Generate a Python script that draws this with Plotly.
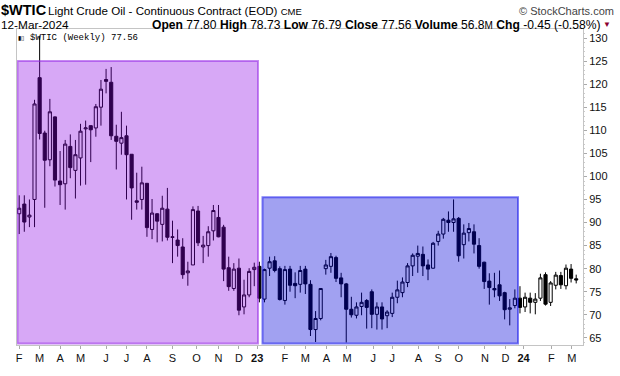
import plotly.graph_objects as go
import pandas as pd

# ---- data (weekly OHLC, $WTIC) ----
start_week = "2022-02-07"
opens = [91.9, 94.0, 91.2, 95.0, 121.4, 109.4, 103.6, 112.9, 99.0, 98.4,
         106.5, 101.3, 104.0, 110.3, 111.0, 110.5, 115.0, 121.0, 120.4, 108.7,
         107.2, 108.8, 104.8, 94.7, 95.0, 98.5, 88.5, 91.9, 89.6, 92.9,
         86.9, 86.2, 84.7, 79.1, 80.8, 92.5, 84.7, 85.0, 88.2, 91.1,
         89.0, 80.2, 75.7, 80.1, 71.7, 74.3, 79.8, 80.5, 73.4, 80.1,
         81.7, 80.0, 73.1, 79.9, 76.8, 76.6, 79.9, 76.6, 66.8, 69.2,
         80.0, 80.5, 82.4, 78.0, 76.7, 71.2, 69.9, 71.8, 73.1, 75.0,
         70.1, 71.7, 69.8, 70.3, 73.8, 74.8, 77.0, 80.6, 82.7, 83.1,
         80.8, 80.1, 85.9, 87.5, 90.5, 90.0, 90.9, 85.2, 87.8, 88.0,
         85.0, 81.4, 77.3, 75.7, 76.5, 74.8, 71.2, 72.0, 73.6, 71.7,
         73.6, 72.7, 73.6, 78.7, 72.7, 76.4, 78.5, 76.3, 79.9, 77.8]
highs = [95.9, 95.9, 95.0, 116.6, 130.5, 109.9, 116.8, 113.0, 105.5, 107.9,
         109.1, 107.9, 111.4, 112.1, 111.0, 115.7, 120.9, 123.3, 123.7, 111.2,
         114.0, 111.0, 104.8, 100.8, 102.1, 98.5, 95.1, 92.0, 95.8, 97.5,
         90.4, 88.5, 86.6, 81.5, 93.5, 93.6, 87.1, 89.2, 93.8, 93.8,
         89.5, 82.6, 81.2, 82.2, 77.6, 80.1, 81.3, 81.5, 80.0, 82.6,
         82.7, 80.5, 80.6, 80.6, 79.2, 80.6, 80.6, 77.5, 70.8, 75.7,
         81.9, 83.4, 82.8, 79.1, 76.9, 73.9, 72.7, 74.8, 73.4, 75.5,
         72.7, 72.7, 71.0, 74.8, 77.4, 78.1, 81.2, 83.3, 85.0, 84.8,
         82.0, 85.8, 88.2, 91.0, 92.4, 95.0, 91.2, 89.6, 89.9, 89.6,
         86.6, 81.5, 79.0, 79.1, 79.6, 75.0, 73.4, 75.5, 76.2, 74.8,
         74.8, 74.7, 78.9, 79.2, 77.3, 79.3, 79.3, 80.9, 81.0, 78.7]
lows = [87.5, 88.0, 89.0, 89.0, 108.0, 93.2, 102.2, 97.8, 93.8, 92.8,
        99.6, 95.2, 98.0, 98.2, 103.1, 108.6, 111.0, 118.0, 107.9, 101.5,
        104.7, 95.0, 90.6, 92.8, 92.8, 86.9, 86.4, 85.7, 85.9, 86.1,
        81.2, 82.6, 77.8, 76.3, 80.8, 84.9, 81.2, 82.6, 86.1, 86.8,
        77.3, 75.2, 75.2, 69.9, 70.1, 73.8, 76.2, 72.7, 72.7, 78.4,
        79.2, 73.1, 72.2, 75.0, 73.6, 74.8, 74.5, 65.4, 64.1, 68.8,
        78.7, 79.1, 77.1, 73.8, 64.0, 69.4, 69.2, 69.9, 67.0, 67.1,
        66.8, 66.8, 67.1, 69.5, 72.5, 73.8, 76.0, 78.4, 79.1, 78.4,
        77.5, 80.0, 85.0, 86.5, 88.0, 88.0, 81.5, 82.2, 85.9, 83.3,
        80.0, 75.6, 72.2, 73.8, 73.0, 69.0, 67.7, 71.4, 70.3, 70.6,
        70.3, 70.1, 73.0, 72.0, 71.9, 75.5, 75.6, 75.5, 77.0, 76.8]
closes = [93.1, 90.1, 91.6, 115.7, 109.3, 103.5, 114.0, 99.2, 98.2, 107.0,
          101.9, 104.7, 109.8, 110.5, 110.1, 115.1, 118.9, 120.6, 108.8, 107.6,
          108.4, 104.7, 97.5, 94.4, 98.6, 88.9, 92.05, 90.3, 93.1, 86.8,
          86.8, 85.0, 78.7, 79.5, 92.8, 85.6, 85.1, 88.0, 92.6, 86.9,
          79.9, 76.1, 79.9, 71.0, 74.3, 79.4, 80.3, 73.6, 79.8, 81.5,
          79.6, 73.3, 79.8, 76.4, 76.3, 79.6, 76.7, 66.8, 69.2, 75.7,
          80.8, 82.6, 77.9, 76.7, 71.2, 70.0, 71.7, 72.7, 71.6, 70.1,
          71.7, 69.1, 70.6, 73.8, 75.4, 77.1, 80.6, 82.9, 83.3, 80.6,
          79.9, 85.5, 87.5, 90.7, 90.0, 90.8, 82.8, 87.7, 88.7, 85.3,
          80.5, 77.2, 75.9, 75.4, 74.1, 71.1, 71.5, 73.6, 71.6, 73.8,
          72.7, 73.4, 78.0, 72.3, 76.9, 78.6, 76.5, 80.1, 77.9, 77.56]

tick_dates = ["2022-02-07", "2022-03-07", "2022-04-04", "2022-05-02", "2022-06-06",
              "2022-07-04", "2022-08-01", "2022-09-05", "2022-10-08", "2022-11-07",
              "2022-12-05", "2022-12-30", "2023-02-06", "2023-03-06", "2023-04-04",
              "2023-05-02", "2023-06-07", "2023-07-03", "2023-08-08", "2023-09-04",
              "2023-10-02", "2023-11-07", "2023-12-05", "2023-12-30", "2024-02-06",
              "2024-03-05"]
tick_text = ["F", "M", "A", "M", "J", "J", "A", "S", "O", "N", "D", "<b>23</b>",
             "F", "M", "A", "M", "J", "J", "A", "S", "O", "N", "D", "<b>24</b>",
             "F", "M"]

dates = pd.date_range(start_week, periods=len(closes), freq="7D")

# ---- pixel helpers for layout geometry ----
W, H = 620, 376
L, R, T, B = 17, 37, 29, 22
PW, PH = W - L - R, H - T - B
X0PX, DXPX = 19.2, 5.11          # px of first candle, px per week
t0 = pd.Timestamp(start_week)


def date_at(px):
    return t0 + pd.Timedelta(days=(px - X0PX) / DXPX * 7)


def px2paper(x, y):
    return (x - L) / PW, (H - B - y) / PH


fig = go.Figure()
fig.add_trace(go.Candlestick(
    x=dates, open=opens, high=highs, low=lows, close=closes,
    increasing=dict(line=dict(color="black", width=1), fillcolor="white"),
    decreasing=dict(line=dict(color="black", width=1), fillcolor="black"),
    whiskerwidth=0, showlegend=False, hoverinfo="skip"))

shapes = [
    dict(type="rect", xref="x", yref="y", layer="above",
         x0=date_at(17.5), x1=date_at(258), y0=63.75, y1=125.0,
         fillcolor="rgba(137,0,229,0.34)",
         line=dict(color="rgba(150,40,230,0.55)", width=2)),
    dict(type="rect", xref="x", yref="y", layer="above",
         x0=date_at(262.5), x1=date_at(518), y0=63.75, y1=95.5,
         fillcolor="rgba(0,0,216,0.37)",
         line=dict(color="rgba(20,20,235,0.55)", width=2)),
]

ann = []


def add_text(x, y, text, size=11, xanchor="left", color="black",
             family="Liberation Sans, Arial, sans-serif"):
    px, py = px2paper(x, y)
    ann.append(dict(x=px, y=py, xref="paper", yref="paper", text=text,
                    showarrow=False, xanchor=xanchor, yanchor="middle",
                    borderpad=0, borderwidth=0,
                    font=dict(size=size, color=color, family=family)))


add_text(1, 9, "<b>$WTIC</b>", size=14.5)
add_text(48, 10.3, "Light Crude Oil - Continuous Contract (EOD) "
         "<span style='font-size:9.5px'>CME</span>", size=11.6)
add_text(614, 10, "© StockCharts.com", size=11, xanchor="right", color="#444")
add_text(1, 24.6, "12-Mar-2024", size=11.8)
add_text(600, 24.6, "<b>Open</b> 77.80 <b>High</b> 78.73 <b>Low</b> 76.79 "
         "<b>Close</b> 77.56 <b>Volume</b> 56.8<span style='font-size:10px'>M</span> "
         "<b>Chg</b> -0.45 (-0.58%)", size=12.1, xanchor="right")
add_text(603, 24.6, "▼", size=8, color="#8b0030")
add_text(18, 38, "▮▯", size=6)
add_text(30, 38, "$WTIC (Weekly) 77.56", size=9,
         family="Liberation Mono")

fig.update_layout(
    width=W, height=H, margin=dict(l=L, r=R, t=T, b=B),
    paper_bgcolor="white", plot_bgcolor="white",
    shapes=shapes, annotations=ann, boxgap=0.12,
    font=dict(family="Liberation Sans, Arial, sans-serif", size=11, color="#111"),
    xaxis=dict(type="date", rangeslider=dict(visible=False),
               range=[date_at(L), date_at(W - R)],
               tickvals=tick_dates, ticktext=tick_text, ticks="outside",
               ticklen=3, tickcolor="#aaa", showgrid=False, zeroline=False,
               showline=True, linecolor="#c4c4c4", linewidth=1, mirror=True,
               tickfont=dict(size=11)),
    yaxis=dict(side="right", range=[63.45, 131.95], tick0=65, dtick=5,
               ticks="outside", ticklen=3, tickcolor="#aaa",
               minor=dict(dtick=1, ticks="outside", ticklen=1, tickcolor="#ccc"),
               showgrid=False, zeroline=False, showline=True,
               linecolor="#c4c4c4", linewidth=1, mirror=True,
               tickfont=dict(size=11)),
)

fig.write_html("out.html", config={"displayModeBar": False},
               post_script="document.body.style.margin='0';"
                           "document.body.style.padding='0';")
